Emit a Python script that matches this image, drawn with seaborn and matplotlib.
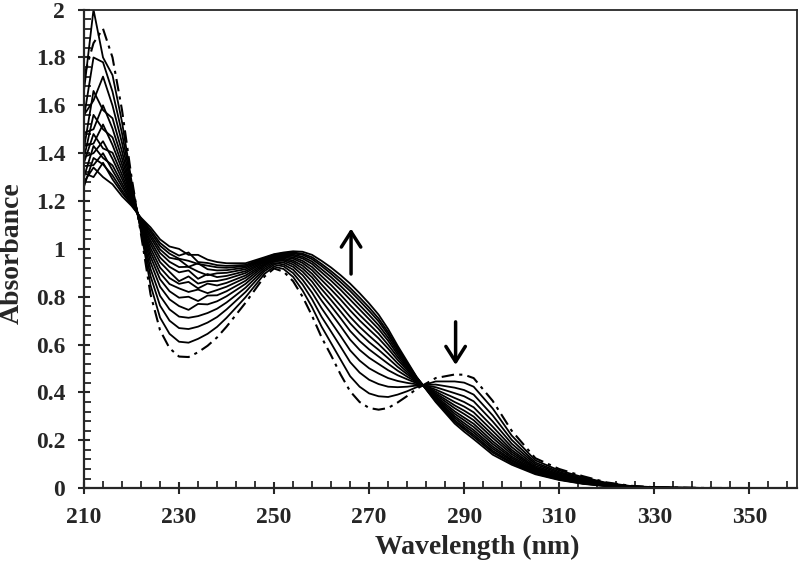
import numpy as np
import pandas as pd
import matplotlib
matplotlib.use("Agg")
import matplotlib.pyplot as plt
import seaborn as sns
from matplotlib.ticker import FixedLocator, MultipleLocator, FuncFormatter

# wavelength grid (nm) and absorbance spectra
wavelength = [210, 212, 214, 216, 218, 220, 222, 224, 226, 228, 230, 232, 234, 236, 238, 240,
              244, 248, 250, 252, 254, 256, 258, 260, 262, 264, 266, 268, 270, 272, 274, 276, 278, 280,
              284, 288, 290, 292, 296, 300,
              305, 310, 315, 320, 325, 330, 340, 360]

# first spectrum (dash-dot)
abs_00 = [1.72, 1.86, 1.92, 1.80, 1.58, 1.30, 1.06, 0.81, 0.66, 0.585, 0.55, 0.548, 0.568, 0.595, 0.63, 0.675,
          0.775, 0.885, 0.918, 0.905, 0.865, 0.80, 0.72, 0.63, 0.555, 0.475, 0.405, 0.36, 0.335, 0.328, 0.335, 0.358, 0.385, 0.415,
          0.46, 0.475, 0.474, 0.46, 0.365, 0.24,
          0.125, 0.08, 0.05, 0.024, 0.01, 0.004, 0.001, 0.0]
abs_01 = [1.661, 2.0, 1.80, 1.726, 1.53, 1.283, 1.07, 0.849, 0.713, 0.645, 0.612, 0.608, 0.624, 0.645, 0.674, 0.712,
          0.798, 0.896, 0.926, 0.916, 0.883, 0.826, 0.756, 0.675, 0.606, 0.537, 0.468, 0.424, 0.396, 0.384, 0.381, 0.391, 0.405, 0.422,
          0.446, 0.446, 0.441, 0.424, 0.333, 0.22,
          0.116, 0.074, 0.046, 0.022, 0.009, 0.004, 0.001, 0.0]
abs_02 = [1.55, 1.80, 1.78, 1.657, 1.483, 1.268, 1.079, 0.886, 0.763, 0.70, 0.669, 0.665, 0.675, 0.692, 0.715, 0.747,
          0.82, 0.907, 0.934, 0.927, 0.899, 0.851, 0.789, 0.716, 0.654, 0.591, 0.527, 0.483, 0.453, 0.435, 0.424, 0.422, 0.424, 0.429,
          0.433, 0.42, 0.41, 0.391, 0.304, 0.202,
          0.107, 0.068, 0.041, 0.02, 0.008, 0.003, 0.001, 0.0]
abs_03 = [1.56, 1.62, 1.72, 1.599, 1.443, 1.254, 1.087, 0.916, 0.804, 0.747, 0.717, 0.712, 0.719, 0.732, 0.75, 0.776,
          0.838, 0.915, 0.941, 0.935, 0.913, 0.871, 0.817, 0.752, 0.694, 0.636, 0.576, 0.533, 0.501, 0.479, 0.46, 0.448, 0.44, 0.434,
          0.422, 0.397, 0.384, 0.363, 0.279, 0.186,
          0.10, 0.063, 0.038, 0.018, 0.007, 0.003, 0.001, 0.0]
abs_04 = [1.42, 1.66, 1.58, 1.546, 1.407, 1.242, 1.094, 0.944, 0.842, 0.789, 0.761, 0.745, 0.77, 0.768, 0.781, 0.802,
          0.854, 0.923, 0.947, 0.943, 0.925, 0.89, 0.842, 0.784, 0.731, 0.677, 0.621, 0.578, 0.545, 0.519, 0.493, 0.472, 0.455, 0.439,
          0.412, 0.377, 0.36, 0.338, 0.257, 0.172,
          0.093, 0.058, 0.035, 0.016, 0.007, 0.003, 0.0, 0.0]
abs_05 = [1.485, 1.50, 1.60, 1.503, 1.378, 1.233, 1.099, 0.967, 0.873, 0.823, 0.796, 0.80, 0.782, 0.805, 0.806, 0.823,
          0.867, 0.93, 0.952, 0.95, 0.935, 0.905, 0.863, 0.809, 0.761, 0.71, 0.657, 0.615, 0.58, 0.55, 0.52, 0.491, 0.466, 0.443,
          0.404, 0.36, 0.341, 0.317, 0.239, 0.16,
          0.087, 0.054, 0.032, 0.015, 0.006, 0.002, 0.0, 0.0]
abs_06 = [1.38, 1.56, 1.50, 1.466, 1.353, 1.224, 1.104, 0.986, 0.899, 0.853, 0.835, 0.82, 0.83, 0.815, 0.828, 0.842,
          0.879, 0.935, 0.956, 0.955, 0.944, 0.918, 0.881, 0.832, 0.786, 0.738, 0.689, 0.647, 0.61, 0.578, 0.543, 0.507, 0.476, 0.447,
          0.397, 0.346, 0.324, 0.299, 0.223, 0.151,
          0.083, 0.051, 0.03, 0.014, 0.006, 0.002, 0.0, 0.0]
abs_07 = [1.43, 1.44, 1.52, 1.434, 1.332, 1.217, 1.108, 1.003, 0.922, 0.878, 0.854, 0.862, 0.835, 0.855, 0.847, 0.858,
          0.889, 0.94, 0.959, 0.96, 0.951, 0.93, 0.896, 0.851, 0.808, 0.763, 0.716, 0.674, 0.637, 0.602, 0.563, 0.522, 0.485, 0.45,
          0.391, 0.334, 0.31, 0.284, 0.21, 0.142,
          0.079, 0.048, 0.028, 0.013, 0.005, 0.002, 0.0, 0.0]
abs_08 = [1.36, 1.48, 1.42, 1.402, 1.31, 1.21, 1.113, 1.02, 0.945, 0.904, 0.865, 0.885, 0.855, 0.865, 0.866, 0.874,
          0.899, 0.945, 0.963, 0.965, 0.959, 0.941, 0.911, 0.87, 0.83, 0.788, 0.743, 0.701, 0.663, 0.626, 0.583, 0.536, 0.494, 0.453,
          0.385, 0.321, 0.295, 0.269, 0.196, 0.133,
          0.075, 0.045, 0.026, 0.012, 0.005, 0.002, 0.0, 0.0]
abs_09 = [1.384, 1.40, 1.45, 1.376, 1.292, 1.204, 1.116, 1.034, 0.964, 0.925, 0.902, 0.91, 0.875, 0.895, 0.882, 0.887,
          0.907, 0.949, 0.966, 0.969, 0.965, 0.95, 0.924, 0.886, 0.849, 0.808, 0.765, 0.724, 0.685, 0.646, 0.599, 0.548, 0.501, 0.455,
          0.38, 0.311, 0.284, 0.256, 0.185, 0.126,
          0.071, 0.043, 0.024, 0.011, 0.004, 0.002, 0.0, 0.0]
abs_10 = [1.30, 1.43, 1.38, 1.349, 1.274, 1.198, 1.12, 1.048, 0.983, 0.946, 0.924, 0.925, 0.905, 0.89, 0.898, 0.90,
          0.915, 0.953, 0.969, 0.973, 0.971, 0.96, 0.937, 0.902, 0.867, 0.829, 0.788, 0.747, 0.706, 0.665, 0.616, 0.559, 0.508, 0.458,
          0.375, 0.301, 0.272, 0.243, 0.174, 0.119,
          0.068, 0.041, 0.023, 0.01, 0.004, 0.001, 0.0, 0.0]
abs_11 = [1.346, 1.35, 1.40, 1.328, 1.26, 1.193, 1.122, 1.059, 0.998, 0.963, 0.955, 0.925, 0.94, 0.915, 0.91, 0.911,
          0.922, 0.956, 0.971, 0.976, 0.976, 0.967, 0.947, 0.915, 0.882, 0.845, 0.806, 0.765, 0.724, 0.681, 0.629, 0.569, 0.514, 0.46,
          0.371, 0.293, 0.262, 0.233, 0.165, 0.114,
          0.065, 0.039, 0.022, 0.01, 0.004, 0.001, 0.0, 0.0]
abs_12 = [1.26, 1.38, 1.353, 1.307, 1.245, 1.188, 1.125, 1.07, 1.013, 0.98, 0.959, 0.95, 0.937, 0.93, 0.923, 0.921,
          0.928, 0.959, 0.974, 0.979, 0.981, 0.975, 0.957, 0.928, 0.896, 0.861, 0.824, 0.783, 0.741, 0.697, 0.642, 0.578, 0.52, 0.462,
          0.367, 0.284, 0.253, 0.223, 0.156, 0.108,
          0.063, 0.037, 0.02, 0.009, 0.003, 0.001, 0.0, 0.0]
abs_13 = [1.317, 1.30, 1.36, 1.291, 1.234, 1.185, 1.127, 1.079, 1.025, 0.993, 0.972, 0.985, 0.945, 0.941, 0.932, 0.929,
          0.933, 0.962, 0.976, 0.982, 0.985, 0.98, 0.965, 0.937, 0.907, 0.874, 0.837, 0.797, 0.755, 0.709, 0.652, 0.586, 0.524, 0.463,
          0.364, 0.278, 0.246, 0.215, 0.149, 0.104,
          0.061, 0.036, 0.019, 0.009, 0.003, 0.001, 0.0, 0.0]
# last spectrum
abs_14 = [1.28, 1.34, 1.30, 1.27, 1.22, 1.18, 1.13, 1.09, 1.04, 1.01, 1.0, 0.975, 0.975, 0.955, 0.945, 0.94,
          0.94, 0.965, 0.978, 0.985, 0.99, 0.988, 0.975, 0.95, 0.922, 0.89, 0.855, 0.815, 0.772, 0.725, 0.665, 0.595, 0.53, 0.465,
          0.36, 0.27, 0.236, 0.205, 0.14, 0.098,
          0.058, 0.034, 0.018, 0.008, 0.003, 0.001, 0.0, 0.0]

later_spectra = [abs_01, abs_02, abs_03, abs_04, abs_05, abs_06, abs_07,
                 abs_08, abs_09, abs_10, abs_11, abs_12, abs_13, abs_14]

x_major = [210, 230, 250, 270, 290, 310, 330, 350]


def build_frame():
    rows = []
    for i, spec in enumerate(later_spectra):
        for w, a in zip(wavelength, spec):
            rows.append((i + 1, w, a))
    return pd.DataFrame(rows, columns=["scan", "Wavelength", "Absorbance"])


def plot_data(df):
    sns.set_style("ticks")
    plt.rcParams["font.family"] = ["Liberation Serif", "DejaVu Serif"]
    plt.rcParams["font.weight"] = "bold"

    fig = plt.figure(figsize=(8, 5.65), dpi=100)
    ax = fig.add_axes([0.105, 0.136, 0.891, 0.847])

    sns.lineplot(data=df, x="Wavelength", y="Absorbance", units="scan", estimator=None,
                 color="black", linewidth=1.3, ax=ax, sort=False)
    sns.lineplot(x=wavelength, y=abs_00, color="black", linewidth=1.5, ax=ax,
                 dashes=False, sort=False)
    ax.lines[-1].set_dashes([6, 2.5, 1.5, 2.5])

    ax.set_xlim(210, 360)
    ax.set_ylim(0, 2)

    ax.xaxis.set_major_locator(FixedLocator(x_major))
    ax.xaxis.set_minor_locator(FixedLocator(np.arange(210, 361, 4)))
    ax.yaxis.set_major_locator(MultipleLocator(0.2))
    ax.yaxis.set_minor_locator(MultipleLocator(0.04))
    ax.yaxis.set_major_formatter(FuncFormatter(lambda v, p: "%g" % round(v, 2)))

    ax.tick_params(which="major", direction="inout", length=9, width=1.5,
                   labelsize=17, pad=9, top=False, right=False)
    ax.tick_params(which="minor", direction="in", length=5, width=1.3,
                   top=False, right=False)
    for lab in ax.get_xticklabels() + ax.get_yticklabels():
        lab.set_fontweight("bold")

    for side in ["left", "bottom"]:
        ax.spines[side].set_linewidth(1.6)
    for side in ["top", "right"]:
        ax.spines[side].set_linewidth(1.3)
        ax.spines[side].set_visible(True)

    ax.set_xlabel("Wavelength (nm)", fontsize=20, fontweight="bold")
    ax.set_ylabel("Absorbance", fontsize=20, fontweight="bold")
    ax.xaxis.set_label_coords(0.552, -0.098)
    ax.yaxis.set_label_coords(-0.083, 0.491)

    arrow = dict(arrowstyle="->,head_length=0.55,head_width=0.35", lw=2.5,
                 color="black", shrinkA=0, shrinkB=0, mutation_scale=20)
    ax.annotate("", xy=(266.2, 1.085), xytext=(266.2, 0.895), arrowprops=arrow)
    ax.annotate("", xy=(288.2, 0.515), xytext=(288.2, 0.695), arrowprops=arrow)

    fig.savefig("out.png", dpi=100)


def main():
    df = build_frame()
    plot_data(df)


if __name__ == "__main__":
    main()
